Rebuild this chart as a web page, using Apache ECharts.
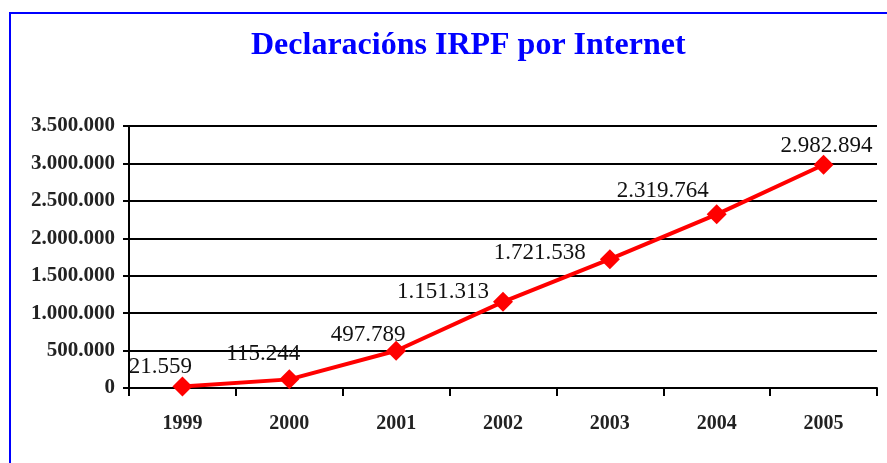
<!DOCTYPE html>
<html>
<head>
<meta charset="utf-8">
<script src="https://cdn.jsdelivr.net/npm/echarts@6/dist/echarts.min.js"></script>
<style>
  html, body { margin: 0; padding: 0; background: #fff; }
  #chart { width: 887px; height: 463px; }
</style>
</head>
<body>
<div id="chart"></div>
<script>
// datos
const years = ['1999', '2000', '2001', '2002', '2003', '2004', '2005'];
const declaraciones = [21559, 115244, 497789, 1151313, 1721538, 2319764, 2982894];
// desprazamento das etiquetas (x, y) respecto da posición 'top'
const labelOffsets = [[-22, 7], [-26, 1], [-28, 11], [-60, 17], [-70, 20], [-54, 3], [3, 8]];

function miles(v) {
  return String(v).replace(/\B(?=(\d{3})+(?!\d))/g, '.');
}

const serif = '"Liberation Serif", "DejaVu Serif", serif';
const myChart = echarts.init(document.getElementById('chart'));

const option = {
  animation: false,
  backgroundColor: '#fff',
  title: {
    text: 'Declaracións IRPF por Internet',
    left: 246,
    top: 25,
    textStyle: {
      fontFamily: serif,
      fontSize: 32,
      fontWeight: 'bold',
      color: '#0000ff',
    },
  },
  graphic: [
    {
      // marco azul
      type: 'rect',
      shape: { x: 10, y: 13, width: 1000, height: 600 },
      style: { fill: 'none', stroke: '#0000ff', lineWidth: 2 },
      silent: true,
    },
  ],
  grid: {
    left: 129,
    right: 10,
    top: 126,
    bottom: 75,
  },
  xAxis: {
    type: 'category',
    data: years,
    boundaryGap: true,
    axisLine: { lineStyle: { color: '#000', width: 2 } },
    axisTick: { show: true, length: 8, lineStyle: { color: '#000', width: 2 } },
    axisLabel: {
      margin: 26,
      color: '#222',
      fontFamily: serif,
      fontSize: 20,
      fontWeight: 'bold',
    },
  },
  yAxis: {
    type: 'value',
    min: 0,
    max: 3500000,
    interval: 500000,
    axisLine: { show: true, lineStyle: { color: '#000', width: 2 } },
    axisTick: { show: true, length: 6, lineStyle: { color: '#000', width: 2 } },
    splitLine: { show: true, lineStyle: { color: '#000', width: 2 } },
    axisLabel: {
      margin: 14,
      color: '#222',
      fontFamily: serif,
      fontSize: 21,
      fontWeight: 'bold',
      formatter: v => miles(v),
    },
  },
  series: [
    {
      type: 'line',
      data: declaraciones.map((v, i) => ({
        value: v,
        label: { offset: labelOffsets[i] },
      })),
      symbol: 'diamond',
      symbolSize: 20,
      itemStyle: { color: '#ff0000' },
      lineStyle: { color: '#ff0000', width: 4 },
      label: {
        show: true,
        position: 'top',
        color: '#111',
        fontFamily: serif,
        fontSize: 23,
        formatter: p => miles(p.value),
      },
      z: 5,
    },
  ],
};
myChart.setOption(option);
</script>
</body>
</html>
